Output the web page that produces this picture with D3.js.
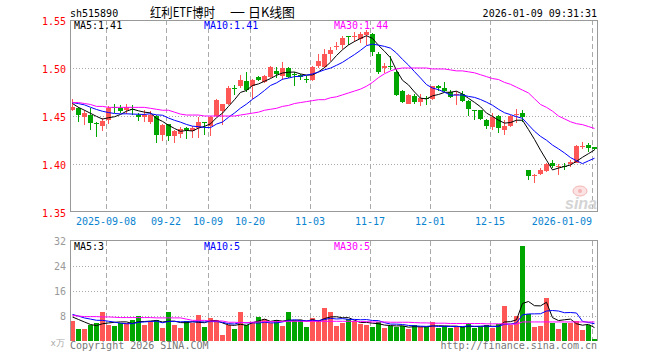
<!DOCTYPE html>
<meta charset="utf-8">
<html>
  <head>
    <title>sh515890 K线图</title>
    <script src="https://d3js.org/d3.v7.min.js"></script>
    <style>
      body{margin:0;background:#fff;}
      text{font-family:"DejaVu Sans Mono","Liberation Mono",monospace;font-size:10px;}
    </style>
  </head>
  <body>
    <div id="chart"></div>
  </body>
  <script>
    var width=660,
        height=360;
    var upColor="#ff5656", downColor="#00a600";

    // trading days shown on the chart
    var dates=[
      "2025-08-29","2025-09-01","2025-09-02","2025-09-03","2025-09-04","2025-09-05",
      "2025-09-08","2025-09-09","2025-09-10","2025-09-11","2025-09-12",
      "2025-09-15","2025-09-16","2025-09-17","2025-09-18","2025-09-19",
      "2025-09-22","2025-09-23","2025-09-24","2025-09-25","2025-09-26",
      "2025-09-29","2025-09-30","2025-10-09","2025-10-10",
      "2025-10-13","2025-10-14","2025-10-15","2025-10-16","2025-10-17",
      "2025-10-20","2025-10-21","2025-10-22","2025-10-23","2025-10-24",
      "2025-10-27","2025-10-28","2025-10-29","2025-10-30","2025-10-31",
      "2025-11-03","2025-11-04","2025-11-05","2025-11-06","2025-11-07",
      "2025-11-10","2025-11-11","2025-11-12","2025-11-13","2025-11-14",
      "2025-11-17","2025-11-18","2025-11-19","2025-11-20","2025-11-21",
      "2025-11-24","2025-11-25","2025-11-26","2025-11-27","2025-11-28",
      "2025-12-01","2025-12-02","2025-12-03","2025-12-04","2025-12-05",
      "2025-12-08","2025-12-09","2025-12-10","2025-12-11","2025-12-12",
      "2025-12-15","2025-12-16","2025-12-17","2025-12-18","2025-12-19",
      "2025-12-22","2025-12-23","2025-12-24","2025-12-25","2025-12-26",
      "2025-12-29","2025-12-30","2025-12-31",
      "2026-01-05","2026-01-06","2026-01-07","2026-01-08","2026-01-09"];
    var tickDates=["2025-09-08","2025-09-22","2025-10-09","2025-10-20","2025-11-03",
                   "2025-11-17","2025-12-01","2025-12-15","2026-01-09"];

    var open=[
      1.456,1.458,1.449,1.451,1.443,1.440,1.446,1.459,1.458,1.456,
      1.457,1.451,1.449,1.444,1.450,1.430,1.442,1.429,1.431,1.437,
      1.434,1.438,1.444,1.440,1.450,1.455,1.462,1.479,1.481,1.486,
      1.481,1.491,1.485,1.491,1.497,1.492,1.500,1.494,1.493,1.489,
      1.487,1.502,1.501,1.515,1.522,1.524,1.533,1.532,1.530,1.534,
      1.535,1.515,1.500,1.502,1.496,1.476,1.463,1.471,1.465,1.469,
      1.468,1.481,1.479,1.475,1.472,1.473,1.466,1.456,1.456,1.446,
      1.439,1.450,1.435,1.440,1.451,1.453,1.394,1.388,1.390,1.393,
      1.401,1.397,1.398,1.400,1.401,1.418,1.420,1.418];
    var high=[
      1.468,1.459,1.456,1.458,1.444,1.448,1.460,1.463,1.461,1.462,
      1.461,1.453,1.456,1.455,1.451,1.442,1.442,1.435,1.439,1.439,
      1.440,1.449,1.444,1.450,1.468,1.463,1.481,1.482,1.493,1.496,
      1.489,1.492,1.493,1.502,1.501,1.506,1.501,1.496,1.494,1.492,
      1.502,1.515,1.520,1.522,1.527,1.533,1.533,1.538,1.538,1.540,
      1.536,1.517,1.505,1.512,1.498,1.477,1.473,1.473,1.473,1.471,
      1.481,1.482,1.485,1.477,1.476,1.476,1.467,1.456,1.456,1.447,
      1.453,1.451,1.446,1.451,1.457,1.456,1.394,1.390,1.396,1.401,
      1.404,1.400,1.401,1.404,1.420,1.423,1.422,1.418];
    var low=[
      1.455,1.444,1.441,1.435,1.428,1.434,1.442,1.453,1.453,1.452,
      1.451,1.445,1.444,1.442,1.422,1.424,1.424,1.422,1.427,1.426,
      1.427,1.427,1.430,1.429,1.449,1.441,1.461,1.472,1.479,1.475,
      1.468,1.486,1.484,1.490,1.490,1.488,1.490,1.481,1.487,1.484,
      1.486,1.500,1.500,1.507,1.519,1.520,1.524,1.527,1.526,1.524,
      1.512,1.494,1.495,1.498,1.471,1.464,1.462,1.462,1.460,1.461,
      1.467,1.476,1.475,1.469,1.461,1.465,1.450,1.446,1.446,1.436,
      1.435,1.432,1.430,1.439,1.443,1.444,1.383,1.380,1.389,1.392,
      1.396,1.389,1.394,1.397,1.401,1.416,1.412,1.415];
    var close=[
      1.459,1.451,1.453,1.443,1.442,1.445,1.458,1.458,1.455,1.459,
      1.456,1.449,1.451,1.451,1.430,1.441,1.429,1.434,1.436,1.435,
      1.438,1.444,1.443,1.449,1.467,1.462,1.479,1.478,1.487,1.477,
      1.488,1.487,1.492,1.501,1.494,1.500,1.491,1.493,1.491,1.488,
      1.501,1.507,1.515,1.519,1.523,1.531,1.532,1.533,1.535,1.537,
      1.517,1.496,1.502,1.501,1.472,1.465,1.472,1.465,1.469,1.468,
      1.481,1.479,1.476,1.470,1.473,1.466,1.457,1.455,1.447,1.440,
      1.449,1.437,1.440,1.450,1.452,1.449,1.388,1.389,1.394,1.400,
      1.398,1.398,1.397,1.402,1.419,1.419,1.417,1.416];
    // closes of the 9 sessions before the window (for MA5 / MA10)
    var priorCloses=[1.462,1.466,1.468,1.465,1.464,1.471,1.468,1.459,1.458];
    // MA30
    var ma30=[
      1.464,1.464,1.463,1.462,1.460,1.460,1.459,1.459,1.459,1.459,
      1.459,1.459,1.459,1.458,1.457,1.456,1.456,1.454,1.452,1.451,
      1.451,1.451,1.450,1.450,1.450,1.450,1.450,1.450,1.451,1.452,
      1.453,1.454,1.456,1.457,1.458,1.460,1.461,1.463,1.464,1.465,
      1.466,1.467,1.467,1.469,1.470,1.472,1.474,1.476,1.478,1.481,
      1.485,1.490,1.494,1.497,1.499,1.500,1.500,1.500,1.500,1.500,
      1.499,1.499,1.499,1.498,1.497,1.497,1.496,1.495,1.493,1.491,
      1.489,1.488,1.485,1.483,1.480,1.477,1.474,1.468,1.462,1.459,
      1.455,1.450,1.447,1.444,1.442,1.441,1.439,1.437];

    // volume, x万
    var volume=[
      6.4,3.8,3.8,5.0,5.7,9.3,5.1,4.8,5.7,5.7,
      6.7,8.0,5.1,6.4,6.7,4.2,9.3,5.1,4.2,6.4,
      5.9,8.3,4.5,7.5,6.7,1.9,5.1,3.8,9.3,5.0,
      6.1,7.7,6.9,5.7,6.7,4.8,9.3,6.4,6.7,4.5,
      7.4,6.7,10.6,9.3,4.8,5.8,6.9,6.4,5.6,5.1,
      4.5,6.1,4.2,4.8,4.5,4.8,3.8,5.1,4.5,4.5,
      6.1,4.2,4.8,4.2,4.5,4.5,5.7,4.2,4.5,5.1,
      4.2,5.4,11.2,5.1,8.0,30.4,8.5,4.5,4.8,13.8,
      5.8,3.8,5.8,5.8,6.4,3.5,5.1,0.6];
    var priorVolumes=[9.0,9.8,8.6,9.5,9.6,7.8,7.8,9.0,7.4];
    var volMa30=[
      8.2,8.0,7.8,7.8,7.8,7.7,7.7,7.6,7.5,7.5,
      7.5,7.5,7.5,7.5,7.4,7.4,7.4,7.4,7.4,7.0,
      6.6,6.6,6.6,6.4,6.4,6.4,6.0,6.0,5.9,5.9,
      6.0,6.1,6.2,6.2,6.2,6.3,6.3,6.3,6.3,6.3,
      6.3,6.3,6.3,6.3,6.3,6.3,6.3,6.3,6.2,6.2,
      6.1,6.1,6.1,6.0,6.0,6.0,6.0,5.9,5.8,5.8,
      5.7,5.7,5.7,5.6,5.6,5.6,5.6,5.6,5.6,5.5,
      5.5,5.5,5.5,5.4,5.4,6.1,6.1,6.1,6.1,6.1,
      6.1,6.1,6.1,6.1,6.1,6.1,6.1,6.1];
    var volMaText=[3,5,5];

    var priceTicks=[1.55,1.50,1.45,1.40,1.35];
    var volTicks=[32,24,16,8];

    //moving average over prior + visible values
    function movingAvg(prior,values,n){
      var all=prior.concat(values), off=prior.length;
      return values.map(function(v,i){
        return d3.mean(all.slice(i+off-n+1,i+off+1));
      });
    }
    var ma5=movingAvg(priorCloses,close,5),
        ma10=movingAvg(priorCloses,close,10);
    var volMa5=movingAvg(priorVolumes,volume,5),
        volMa10=movingAvg(priorVolumes,volume,10);

    var svg=d3.select("#chart").append("svg")
      .attr("width",width).attr("height",height)
      .attr("shape-rendering","crispEdges");

    var left=70, right=597;
    var x=d3.scaleBand().domain(d3.range(dates.length))
      .range([left,right]).paddingInner(1/6).paddingOuter(0);
    var bw=x.bandwidth();
    function cx(i){return x(i)+bw/2;}

    var y=d3.scaleLinear().domain([1.35,1.55]).range([212,20]);
    var yv=d3.scaleLinear().domain([0,32]).range([341,241]);

    function px(v){return Math.floor(v)+0.5;}

    // ---- grid ----
    var grid=svg.append("g").attr("fill","none");
    var tickIdx=tickDates.map(function(d){return dates.indexOf(d);});
    [[20,212],[241,341]].forEach(function(r){
      grid.selectAll(null).data(tickIdx).enter().append("line")
        .attr("x1",function(i){return x(i)+0.5}).attr("x2",function(i){return x(i)+0.5})
        .attr("y1",r[0]).attr("y2",r[1])
        .attr("stroke","#aaa").attr("stroke-dasharray","5,3");
    });
    grid.selectAll(null).data(priceTicks.slice(1,-1)).enter().append("line")
      .attr("x1",left).attr("x2",right)
      .attr("y1",function(d){return px(y(d))}).attr("y2",function(d){return px(y(d))})
      .attr("stroke","#aaa").attr("stroke-dasharray","1,2");
    grid.selectAll(null).data(volTicks.slice(1)).enter().append("line")
      .attr("x1",left).attr("x2",right)
      .attr("y1",function(d){return px(yv(d))}).attr("y2",function(d){return px(yv(d))})
      .attr("stroke","#aaa").attr("stroke-dasharray","1,2");

    // sina watermark
    var mark=svg.append("g").attr("shape-rendering","auto");
    mark.append("ellipse").attr("cx",580).attr("cy",191).attr("rx",7).attr("ry",5)
      .attr("fill","#fbe3e3").attr("stroke","#f3b5b5");
    mark.append("circle").attr("cx",580).attr("cy",191).attr("r",2).attr("fill","#f3b5b5");
    mark.append("text").attr("x",565).attr("y",209).text("sina")
      .style("font-family","Liberation Sans").style("font-size","16px")
      .style("font-style","italic").style("font-weight","bold").attr("fill","#d4d4d4");

    // ---- candles ----
    var candles=svg.append("g").selectAll("g").data(close).enter().append("g")
      .attr("fill",function(c,i){return c>=open[i]?upColor:downColor});
    candles.append("rect")
      .attr("x",function(c,i){return x(i)+Math.floor(bw/2)})
      .attr("width",1)
      .attr("y",function(c,i){return y(high[i])})
      .attr("height",function(c,i){return Math.max(1,y(low[i])-y(high[i]))});
    candles.append("rect")
      .attr("x",function(c,i){return x(i)})
      .attr("width",bw)
      .attr("y",function(c,i){return y(Math.max(c,open[i]))})
      .attr("height",function(c,i){return Math.max(1,Math.abs(y(c)-y(open[i])))});

    // ---- volume bars ----
    svg.append("g").selectAll("rect").data(volume).enter().append("rect")
      .attr("x",function(v,i){return x(i)})
      .attr("width",bw)
      .attr("y",function(v){return yv(v)})
      .attr("height",function(v){return yv(0)-yv(v)})
      .attr("fill",function(v,i){return close[i]>=open[i]?upColor:downColor});

    // ---- MA lines ----
    var maColors=["#000","#0000ff","#ff00ff"];
    var lines=svg.append("g").attr("fill","none").attr("shape-rendering","auto");
    [ma5,ma10,ma30].forEach(function(s,k){
      lines.append("path").datum(s)
        .attr("d",d3.line().x(function(d,i){return cx(i)}).y(function(d){return y(d)}))
        .attr("stroke",maColors[k]).attr("stroke-width",1);
    });
    [volMa5,volMa10,volMa30].forEach(function(s,k){
      lines.append("path").datum(s)
        .attr("d",d3.line().x(function(d,i){return cx(i)}).y(function(d){return yv(d)}))
        .attr("stroke",maColors[k]).attr("stroke-width",1);
    });

    // ---- frames ----
    svg.append("rect").attr("x",left+0.5).attr("y",20.5)
      .attr("width",right-left).attr("height",191)
      .attr("fill","none").attr("stroke","#999");
    svg.append("path").attr("d","M"+(left+0.5)+",341V240.5H"+(right+0.5)+"V341")
      .attr("fill","none").attr("stroke","#999");

    // ---- axis labels ----
    svg.append("g").selectAll("text").data(priceTicks).enter().append("text")
      .attr("x",66).attr("y",function(d){return y(d)+5})
      .attr("text-anchor","end").attr("fill","#f00")
      .text(function(d){return d.toFixed(2)});
    svg.append("g").selectAll("text").data(volTicks).enter().append("text")
      .attr("x",66).attr("y",function(d){return yv(d)+3.5})
      .attr("text-anchor","end").attr("fill","#999")
      .text(function(d){return d});
    svg.append("text").attr("x",65).attr("y",346).attr("text-anchor","end")
      .attr("fill","#aaa").style("font-size","9px").text("x万");

    svg.append("g").selectAll("text").data(tickIdx).enter().append("text")
      .attr("x",function(i){return x(i)})
      .attr("y",225)
      .attr("text-anchor",function(i,k){return k==tickIdx.length-1?"end":"middle"})
      .attr("fill","#0a84d0")
      .text(function(i,k){
        return (k==0||k==tickIdx.length-1)?dates[i]:dates[i].slice(5);
      });

    // ---- MA legends ----
    var last=close.length-1;
    var maText=["MA5:"+ma5[last].toFixed(2),"MA10:"+ma10[last].toFixed(2),"MA30:"+ma30[last].toFixed(2)];
    var legendX=[74,204,334];
    maText.forEach(function(t,k){
      svg.append("text").attr("x",legendX[k]).attr("y",29).attr("fill",maColors[k]).text(t);
      svg.append("text").attr("x",legendX[k]).attr("y",250).attr("fill",maColors[k])
        .text(["MA5:","MA10:","MA30:"][k]+volMaText[k]);
    });

    // ---- titles ----
    svg.append("text").attr("x",70).attr("y",16.5).attr("fill","#000").text("sh515890");
    var titleParts=[["红利ETF博时",150,65],["一",230,15],["日K线图",248,47]];
    titleParts.forEach(function(p){
      svg.append("text").attr("x",p[1]).attr("y",17).attr("fill","#000")
        .attr("textLength",p[2]).attr("lengthAdjust","spacingAndGlyphs")
        .style("font-family","Noto Sans CJK SC").style("font-size","13px")
        .text(p[0]);
    });
    svg.append("text").attr("x",597).attr("y",16.5).attr("text-anchor","end")
      .attr("fill","#000").text("2026-01-09 09:31:31");
    svg.append("text").attr("x",70).attr("y",349).attr("fill","#777").text("Copyright 2026 SINA.COM");
    svg.append("text").attr("x",597).attr("y",349).attr("text-anchor","end")
      .attr("fill","#777").text("http://finance.sina.com.cn");
  </script>
</html>
